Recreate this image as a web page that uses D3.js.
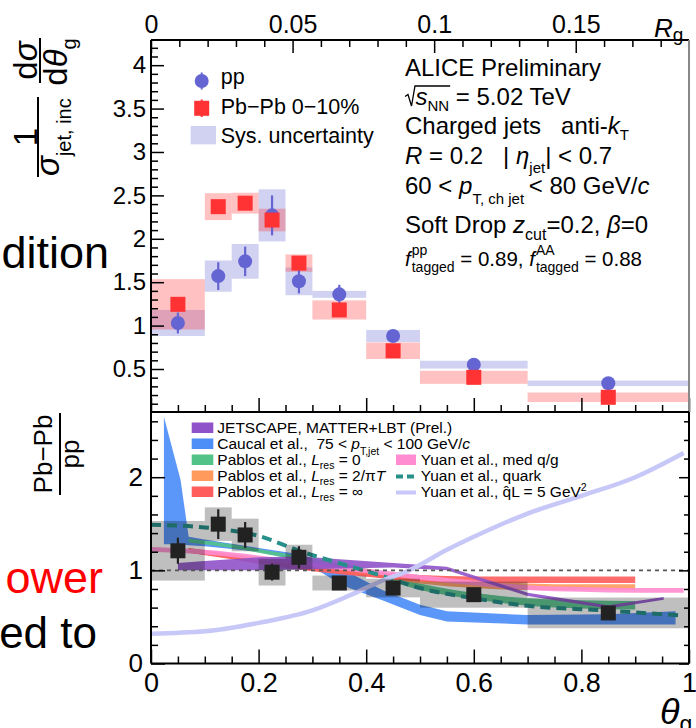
<!DOCTYPE html>
<html><head><meta charset="utf-8">
<script src="https://cdn.jsdelivr.net/npm/d3@7"></script>
<style>html,body{margin:0;padding:0;background:#fff;} svg{display:block;} text{white-space:pre;}</style>
</head><body>
<script>
// ================= DATA =================
const binEdges = [0, 0.1, 0.15, 0.2, 0.25, 0.3, 0.4, 0.5, 0.7, 1.0];
const ppValues = [1.03, 1.57, 1.74, 2.27, 1.51, 1.36, 0.88, 0.55, 0.335];
const ppStat   = [0.12, 0.16, 0.17, 0.23, 0.14, 0.11, 0.05, 0.03, 0.02];
const ppSys    = [0.15, 0.18, 0.20, 0.30, 0.16, 0.04, 0.07, 0.045, 0.032];
const pbValues = [1.245, 2.37, 2.41, 2.216, 1.72, 1.18, 0.71, 0.404, 0.174];
const pbStat   = [0.07, 0.05, 0.05, 0.07, 0.06, 0.05, 0.04, 0.03, 0.03];
const pbSys    = [0.29, 0.155, 0.12, 0.13, 0.10, 0.11, 0.095, 0.075, 0.055];
const ratioValues = [1.21, 1.496, 1.38, 0.98, 1.14, 0.864, 0.81, 0.739, 0.543];
const ratioStat   = [0.14, 0.16, 0.14, 0.09, 0.12, 0.05, 0.05, 0.04, 0.04];
const ratioSys    = [0.32, 0.18, 0.175, 0.143, 0.135, 0.08, 0.10, 0.14, 0.165];

const jetscapeX  = [0.05, 0.1, 0.2, 0.28, 0.35, 0.45, 0.55, 0.7, 0.85, 0.953];
const jetscapeHi = [1.08, 1.10, 1.14, 1.15, 1.12, 1.08, 1.04, 0.76, 0.625, 0.715];
const jetscapeLo = [1.00, 1.00, 1.00, 1.01, 1.02, 1.03, 1.00, 0.725, 0.59, 0.685];

const caucalX  = [0.024, 0.055, 0.07, 0.1, 0.2, 0.28, 0.36, 0.43, 0.5, 0.55, 0.7, 0.85, 0.975];
const caucalHi = [2.65, 1.97, 1.36, 1.33, 1.24, 1.17, 1.0, 0.79, 0.63, 0.56, 0.52, 0.53, 0.56];
const caucalLo = [1.28, 1.28, 1.27, 1.26, 1.2, 1.1, 0.83, 0.68, 0.52, 0.45, 0.42, 0.42, 0.42];

const pablosX     = [0.07, 0.15, 0.2, 0.3, 0.4, 0.5, 0.6, 0.7, 0.8, 0.9];
const pablos0Hi   = [1.34, 1.28, 1.23, 1.13, 1.02, 0.86, 0.76, 0.70, 0.68, 0.67];
const pablos0Lo   = [1.30, 1.24, 1.19, 1.08, 0.96, 0.79, 0.69, 0.62, 0.59, 0.58];
const pablos2Hi   = [1.24, 1.18, 1.14, 1.06, 0.99, 0.92, 0.88, 0.86, 0.85, 0.85];
const pablos2Lo   = [1.19, 1.13, 1.09, 1.01, 0.94, 0.86, 0.81, 0.79, 0.79, 0.79];
const pablosInfHi = [1.24, 1.17, 1.12, 1.04, 0.99, 0.95, 0.935, 0.935, 0.935, 0.935];
const pablosInfLo = [1.19, 1.12, 1.07, 0.99, 0.93, 0.88, 0.865, 0.865, 0.865, 0.865];

const yuanMedX  = [0, 0.1, 0.2, 0.3, 0.4, 0.5, 0.6, 0.7, 0.8, 0.9, 0.99];
const yuanMedHi = [1.25, 1.22, 1.16, 1.09, 1.02, 0.95, 0.89, 0.84, 0.82, 0.81, 0.81];
const yuanMedLo = [1.20, 1.17, 1.11, 1.04, 0.97, 0.90, 0.84, 0.79, 0.77, 0.76, 0.76];

const yuanQuarkX = [0, 0.1, 0.2, 0.28, 0.36, 0.43, 0.5, 0.6, 0.7, 0.85, 0.99];
const yuanQuarkY = [1.49, 1.46, 1.37, 1.2, 1.06, 0.94, 0.81, 0.70, 0.62, 0.567, 0.514];

const yuanQLX = [0, 0.1, 0.2, 0.3, 0.365, 0.426, 0.48, 0.55, 0.6, 0.7, 0.8, 0.9, 0.99];
const yuanQLY = [0.32, 0.345, 0.436, 0.57, 0.72, 0.88, 1.0, 1.22, 1.36, 1.61, 1.8, 2.0, 2.26];

const rgTicks = [0, 0.05, 0.1, 0.15];
const rgTickLabels = ["0", "0.05", "0.1", "0.15"];
const topYTicks = [0.5, 1, 1.5, 2, 2.5, 3, 3.5, 4];
const topYTickLabels = ["0.5", "1", "1.5", "2", "2.5", "3", "3.5", "4"];
const thetaTicks = [0, 0.2, 0.4, 0.6, 0.8, 1];
const thetaTickLabels = ["0", "0.2", "0.4", "0.6", "0.8", "1"];
const botYTicks = [0, 1, 2];
const botYTickLabels = ["0", "1", "2"];

// ================= SETUP =================
const W = 696, H = 728;
const FONT = '"Liberation Sans", Arial, Helvetica, sans-serif';
const svg = d3.select("body").append("svg").attr("width", W).attr("height", H)
  .style("font-family", FONT).style("background", "#fff");

const L = 151, R = 689, T1 = 40, B1 = 412, B2 = 663.5;
const x = d3.scaleLinear().domain([0, 1]).range([L, R]);
const xR = d3.scaleLinear().domain([0, 0.19]).range([L, R]);
const yTop = d3.scaleLinear().domain([0, 4.29]).range([412.4, T1]);
const yBot = d3.scaleLinear().domain([0, 2.7]).range([B2, B1]);

const bins = binEdges.slice(0, -1).map((lo, i) => ({lo, hi: binEdges[i + 1], c: (lo + binEdges[i + 1]) / 2, i}));

function rich(parent, px, py, parts, size, anchor, fill) {
  const g = parent.append("g").attr("fill", fill || "#000");
  let cx = 0;
  const pos = [];
  for (const p of parts) {
    if (p.gap !== undefined) { pos.push([cx, cx + p.gap]); cx += p.gap; continue; }
    if (p.stack) {
      let w = 0;
      for (const s of p.stack) {
        const t = g.append("text").attr("x", cx).attr("y", s.dy).attr("font-size", s.size)
          .style("font-style", s.i ? "italic" : "normal").attr("xml:space", "preserve").text(s.t);
        w = Math.max(w, t.node().getComputedTextLength());
      }
      pos.push([cx, cx + w]);
      cx += w;
      continue;
    }
    const fs = p.size || size;
    const t = g.append("text").attr("x", cx + (p.dx || 0)).attr("y", p.dy || 0).attr("font-size", fs)
      .style("font-style", p.i ? "italic" : "normal").attr("xml:space", "preserve").text(p.t);
    const w = t.node().getComputedTextLength();
    pos.push([cx + (p.dx || 0), cx + (p.dx || 0) + w]);
    cx += w + (p.dx || 0) + (p.after || 0);
  }
  const off = anchor === "middle" ? -cx / 2 : anchor === "end" ? -cx : 0;
  g.attr("transform", `translate(${px + off},${py})`);
  return {g, width: cx, pos};
}

function styleAxis(g, fs) {
  g.attr("font-family", null).attr("font-size", null);
  g.select(".domain").remove();
  g.selectAll(".tick line").attr("stroke", "#000").attr("stroke-width", 1.5);
  g.selectAll("text").attr("font-size", fs).attr("fill", "#000").style("font-family", FONT);
}
function diffTicks(start, stop, step, majors) {
  return d3.range(start, stop + 1e-9, step).filter(v => !majors.some(m => Math.abs(m - v) < 1e-6));
}

// ================= BACKGROUND SLIDE TEXT =================
svg.append("text").attr("x", 109).attr("y", 268).attr("text-anchor", "end").attr("font-size", 45).attr("fill", "#000").text("dition");
svg.append("text").attr("x", 103).attr("y", 593).attr("text-anchor", "end").attr("font-size", 45).attr("fill", "#ff0000").text("ower");
svg.append("text").attr("x", 97).attr("y", 648).attr("text-anchor", "end").attr("font-size", 44).attr("fill", "#000").text("ed to");

// ================= TOP PANEL =================
const topG = svg.append("g");
topG.append("rect").attr("x", L).attr("y", T1).attr("width", R - L).attr("height", B1 - T1).attr("fill", "#fff");
svg.append("clipPath").attr("id", "clipTop").append("rect").attr("x", L).attr("y", T1).attr("width", R - L).attr("height", B1 - T1);

const tp = topG.append("g").attr("clip-path", "url(#clipTop)");
tp.selectAll(".ppsys").data(bins).join("rect")
  .attr("x", d => x(d.lo)).attr("width", d => x(d.hi) - x(d.lo))
  .attr("y", d => yTop(ppValues[d.i] + ppSys[d.i]))
  .attr("height", d => yTop(ppValues[d.i] - ppSys[d.i]) - yTop(ppValues[d.i] + ppSys[d.i]))
  .attr("fill", "rgb(102,102,210)").attr("fill-opacity", 0.3);
tp.selectAll(".pbsys").data(bins).join("rect")
  .attr("x", d => x(d.lo)).attr("width", d => x(d.hi) - x(d.lo))
  .attr("y", d => yTop(pbValues[d.i] + pbSys[d.i]))
  .attr("height", d => yTop(pbValues[d.i] - pbSys[d.i]) - yTop(pbValues[d.i] + pbSys[d.i]))
  .attr("fill", "rgb(255,51,51)").attr("fill-opacity", 0.3);
tp.selectAll(".pperr").data(bins).join("line")
  .attr("x1", d => x(d.c)).attr("x2", d => x(d.c))
  .attr("y1", d => yTop(ppValues[d.i] - ppStat[d.i])).attr("y2", d => yTop(ppValues[d.i] + ppStat[d.i]))
  .attr("stroke", "#6464d2").attr("stroke-width", 2.2);
tp.selectAll(".ppdot").data(bins).join("circle")
  .attr("cx", d => x(d.c)).attr("cy", d => yTop(ppValues[d.i])).attr("r", 7)
  .attr("fill", "#6464d2");
tp.selectAll(".pberr").data(bins).join("line")
  .attr("x1", d => x(d.c)).attr("x2", d => x(d.c))
  .attr("y1", d => yTop(pbValues[d.i] - pbStat[d.i])).attr("y2", d => yTop(pbValues[d.i] + pbStat[d.i]))
  .attr("stroke", "#ff3333").attr("stroke-width", 2.2);
tp.selectAll(".pbsq").data(bins).join("rect")
  .attr("x", d => x(d.c) - 7.5).attr("y", d => yTop(pbValues[d.i]) - 7.5).attr("width", 15).attr("height", 15)
  .attr("fill", "#ff3333");

topG.append("g").attr("transform", `translate(0,${T1})`)
  .call(d3.axisTop(xR).tickValues(rgTicks).tickSize(-13).tickPadding(7).tickFormat((d, i) => rgTickLabels[i]))
  .call(g => styleAxis(g, 25));
topG.append("g").attr("transform", `translate(0,${T1})`)
  .call(d3.axisTop(xR).tickValues(diffTicks(0.01, 0.18, 0.01, rgTicks)).tickSize(-7).tickFormat(""))
  .call(g => styleAxis(g, 25));
topG.append("g").attr("transform", `translate(${L},0)`)
  .call(d3.axisLeft(yTop).tickValues(topYTicks).tickSize(-13).tickPadding(5).tickFormat((d, i) => topYTickLabels[i]))
  .call(g => styleAxis(g, 24));
topG.append("g").attr("transform", `translate(${L},0)`)
  .call(d3.axisLeft(yTop).tickValues(diffTicks(0.1, 4.2, 0.1, topYTicks)).tickSize(-7).tickFormat(""))
  .call(g => styleAxis(g, 24));
topG.append("g").attr("transform", `translate(0,${B1})`)
  .call(d3.axisBottom(x).tickValues(thetaTicks).tickSize(-14).tickFormat(""))
  .call(g => styleAxis(g, 24));
topG.append("g").attr("transform", `translate(0,${B1})`)
  .call(d3.axisBottom(x).tickValues(diffTicks(0.05, 0.95, 0.05, thetaTicks)).tickSize(-7).tickFormat(""))
  .call(g => styleAxis(g, 24));
topG.append("line").attr("x1", L).attr("x2", R).attr("y1", T1).attr("y2", T1).attr("stroke", "#000").attr("stroke-width", 2);
topG.append("line").attr("x1", L).attr("x2", L).attr("y1", T1).attr("y2", B1).attr("stroke", "#000").attr("stroke-width", 2);
topG.append("line").attr("x1", R).attr("x2", R).attr("y1", T1).attr("y2", B1).attr("stroke", "#888").attr("stroke-width", 2);

// top legend
const tl = svg.append("g");
tl.append("line").attr("x1", 201.7).attr("x2", 201.7).attr("y1", 72.5).attr("y2", 89.5).attr("stroke", "#6464d2").attr("stroke-width", 2);
tl.append("circle").attr("cx", 201.7).attr("cy", 81).attr("r", 7).attr("fill", "#6464d2");
tl.append("line").attr("x1", 201.7).attr("x2", 201.7).attr("y1", 99.5).attr("y2", 117).attr("stroke", "#ff3333").attr("stroke-width", 2);
tl.append("rect").attr("x", 194.2).attr("y", 100.8).attr("width", 15).attr("height", 15).attr("fill", "#ff3333");
tl.append("rect").attr("x", 190.7).attr("y", 126).attr("width", 25.3).attr("height", 18.3).attr("fill", "rgb(102,102,210)").attr("fill-opacity", 0.3);
tl.append("text").attr("x", 220.7).attr("y", 83.5).attr("font-size", 21.5).text("pp");
tl.append("text").attr("x", 220.7).attr("y", 113.5).attr("font-size", 21.5).text("Pb\u2212Pb 0\u221210%");
tl.append("text").attr("x", 220.7).attr("y", 142.5).attr("font-size", 21.5).text("Sys. uncertainty");

// top-right info text
const X0 = 405;
rich(svg, X0, 75.5, [{t: "ALICE Preliminary"}], 24);
const l2 = rich(svg, X0, 104.5, [{gap: 10.5}, {t: "s", i: true}, {t: "NN", size: 15, dy: 6}, {t: " = 5.02 TeV"}], 24);
l2.g.append("path").attr("d", `M0,-8 L3,-10 L6.5,1.5 L10,-18.5 L${l2.pos[2][1] + 1},-18.5`)
  .attr("fill", "none").attr("stroke", "#000").attr("stroke-width", 1.3);
rich(svg, X0, 134, [{t: "Charged jets   anti-"}, {t: "k", i: true}, {t: "T", size: 15, dy: 6}], 24);
rich(svg, X0, 163.5, [{t: "R", i: true}, {t: " = 0.2   | "}, {t: "\u03B7", i: true}, {t: "jet", size: 15, dy: 9}, {t: "| < 0.7"}], 24);
rich(svg, X0, 194, [{t: "60 < "}, {t: "p", i: true}, {t: "T, ch jet", size: 15, dy: 10}, {t: " < 80 GeV/", dx: -2}, {t: "c", i: true}], 24);
rich(svg, X0, 233, [{t: "Soft Drop "}, {t: "z", i: true}, {t: "cut", size: 16, dy: 7}, {t: "=0.2, "}, {t: "\u03B2", i: true}, {t: "=0"}], 24);
rich(svg, X0, 265.5, [{t: "f", i: true, after: 1}, {stack: [{t: "pp", size: 14, dy: -11}, {t: "tagged", size: 14, dy: 6}]},
  {t: " = 0.89, "}, {t: "f", i: true, after: 1}, {stack: [{t: "AA", size: 14, dy: -11}, {t: "tagged", size: 14, dy: 6}]}, {t: " = 0.88"}], 20.5);

rich(svg, 654, 37, [{t: "R", i: true}, {t: "g", size: 19, dy: 4}], 26);

const yt = svg.append("g").attr("transform", "translate(40,177) rotate(-90)");
yt.append("line").attr("x1", 0).attr("x2", 80).attr("y1", -2).attr("y2", -2).attr("stroke", "#000").attr("stroke-width", 2);
rich(yt, 40, -3, [{t: "1"}], 33, "middle");
rich(yt, 1, 19, [{t: "\u03C3", i: true}, {t: "jet, inc", size: 20, dy: 12}], 33);
yt.append("line").attr("x1", 94).attr("x2", 139).attr("y1", 0).attr("y2", 0).attr("stroke", "#000").attr("stroke-width", 2);
rich(yt, 116.5, -3, [{t: "d"}, {t: "\u03C3", i: true}], 33, "middle");
rich(yt, 115, 27, [{t: "d"}, {t: "\u03B8", i: true}, {t: "g", size: 20, dy: 9}], 33, "middle");

// ================= BOTTOM PANEL =================
const botG = svg.append("g");
svg.append("clipPath").attr("id", "clipBot").append("rect").attr("x", L).attr("y", B1).attr("width", R - L).attr("height", B2 - B1);
const bp = botG.append("g").attr("clip-path", "url(#clipBot)");

function band(xs, hi, lo, color, curve, op) {
  const data = xs.map((v, i) => ({x: v, hi: hi[i], lo: lo[i]}));
  bp.append("path").datum(data)
    .attr("d", d3.area().x(d => x(d.x)).y0(d => yBot(d.lo)).y1(d => yBot(d.hi)).curve(curve))
    .attr("fill", color).attr("fill-opacity", op);
}
band(caucalX, caucalHi, caucalLo, "#4d8ef7", d3.curveLinear, 0.92);
band(pablosX, pablos0Hi, pablos0Lo, "#52c287", d3.curveMonotoneX, 0.9);
band(pablosX, pablos2Hi, pablos2Lo, "#ff9a5c", d3.curveMonotoneX, 0.9);
band(pablosX, pablosInfHi, pablosInfLo, "#ff5c5c", d3.curveMonotoneX, 0.9);
band(yuanMedX, yuanMedHi, yuanMedLo, "#ff8cd0", d3.curveMonotoneX, 0.9);
band(jetscapeX, jetscapeHi, jetscapeLo, "#8f52c8", d3.curveLinear, 0.9);
bp.append("path").datum(yuanQuarkX.map((v, i) => ({x: v, y: yuanQuarkY[i]})))
  .attr("d", d3.line().x(d => x(d.x)).y(d => yBot(d.y)).curve(d3.curveMonotoneX))
  .attr("fill", "none").attr("stroke", "#28908a").attr("stroke-width", 4).attr("stroke-dasharray", "10,6");
bp.append("path").datum(yuanQLX.map((v, i) => ({x: v, y: yuanQLY[i]})))
  .attr("d", d3.line().x(d => x(d.x)).y(d => yBot(d.y)).curve(d3.curveMonotoneX))
  .attr("fill", "none").attr("stroke", "#c8c8f8").attr("stroke-width", 4.5);

bp.selectAll(".rsys").data(bins).join("rect")
  .attr("x", d => x(d.lo)).attr("width", d => x(d.hi) - x(d.lo))
  .attr("y", d => yBot(ratioValues[d.i] + ratioSys[d.i]))
  .attr("height", d => yBot(ratioValues[d.i] - ratioSys[d.i]) - yBot(ratioValues[d.i] + ratioSys[d.i]))
  .attr("fill", "#000").attr("fill-opacity", 0.25);
bp.append("line").attr("x1", L).attr("x2", R).attr("y1", yBot(1)).attr("y2", yBot(1))
  .attr("stroke", "#555").attr("stroke-width", 1.6).attr("stroke-dasharray", "4,4");
bp.selectAll(".rerr").data(bins).join("line")
  .attr("x1", d => x(d.c)).attr("x2", d => x(d.c))
  .attr("y1", d => yBot(ratioValues[d.i] - ratioStat[d.i])).attr("y2", d => yBot(ratioValues[d.i] + ratioStat[d.i]))
  .attr("stroke", "#222").attr("stroke-width", 2.2);
bp.selectAll(".rsq").data(bins).join("rect")
  .attr("x", d => x(d.c) - 7.5).attr("y", d => yBot(ratioValues[d.i]) - 7.5).attr("width", 15).attr("height", 15)
  .attr("fill", "#222");

botG.append("g").attr("transform", `translate(0,${B2})`)
  .call(d3.axisBottom(x).tickValues(thetaTicks).tickSize(-14).tickPadding(9).tickFormat((d, i) => thetaTickLabels[i]))
  .call(g => styleAxis(g, 27));
botG.append("g").attr("transform", `translate(0,${B2})`)
  .call(d3.axisBottom(x).tickValues(diffTicks(0.05, 0.95, 0.05, thetaTicks)).tickSize(-7).tickFormat(""))
  .call(g => styleAxis(g, 27));
botG.append("g").attr("transform", `translate(${L},0)`)
  .call(d3.axisLeft(yBot).tickValues(botYTicks).tickSize(-14).tickPadding(8).tickFormat((d, i) => botYTickLabels[i]))
  .call(g => styleAxis(g, 26));
botG.append("g").attr("transform", `translate(${L},0)`)
  .call(d3.axisLeft(yBot).tickValues(diffTicks(0.2, 2.6, 0.2, botYTicks)).tickSize(-7).tickFormat(""))
  .call(g => styleAxis(g, 26));
botG.append("g").attr("transform", `translate(${R},0)`)
  .call(d3.axisRight(yBot).tickValues(botYTicks).tickSize(-10).tickFormat(""))
  .call(g => styleAxis(g, 26));
botG.append("g").attr("transform", `translate(${R},0)`)
  .call(d3.axisRight(yBot).tickValues(diffTicks(0.2, 2.6, 0.2, botYTicks)).tickSize(-5).tickFormat(""))
  .call(g => styleAxis(g, 26));
botG.append("line").attr("x1", L).attr("x2", R).attr("y1", B1).attr("y2", B1).attr("stroke", "#000").attr("stroke-width", 2);
botG.append("line").attr("x1", L).attr("x2", R).attr("y1", B2).attr("y2", B2).attr("stroke", "#000").attr("stroke-width", 2);
botG.append("line").attr("x1", L).attr("x2", L).attr("y1", B1).attr("y2", B2).attr("stroke", "#000").attr("stroke-width", 2);
botG.append("line").attr("x1", R).attr("x2", R).attr("y1", B1).attr("y2", B2).attr("stroke", "#000").attr("stroke-width", 2);

// bottom legend
const bl = svg.append("g");
const LFS = 15.5;
const legLeft = [
  {c: "#8f52c8", parts: [{t: "JETSCAPE, MATTER+LBT (Prel.)"}]},
  {c: "#4d8ef7", parts: [{t: "Caucal et al.,  75 < "}, {t: "p", i: true}, {t: "T,jet", size: 10.5, dy: 6}, {t: " < 100 GeV/"}, {t: "c", i: true}]},
  {c: "#52c287", parts: [{t: "Pablos et al., "}, {t: "L", i: true}, {t: "res", size: 10.5, dy: 4}, {t: " = 0"}]},
  {c: "#ff9a5c", parts: [{t: "Pablos et al., "}, {t: "L", i: true}, {t: "res", size: 10.5, dy: 4}, {t: " = 2/\u03C0"}, {t: "T", i: true}]},
  {c: "#ff5c5c", parts: [{t: "Pablos et al., "}, {t: "L", i: true}, {t: "res", size: 10.5, dy: 4}, {t: " = \u221E"}]}
];
legLeft.forEach((e, i) => {
  const yb = 432.5 + 16 * i;
  bl.append("rect").attr("x", 191.7).attr("y", yb - 10).attr("width", 21.6).attr("height", 10.5).attr("fill", e.c);
  rich(bl, 217.3, yb, e.parts, LFS);
});
bl.append("rect").attr("x", 396).attr("y", 454.5).attr("width", 20).attr("height", 10.5).attr("fill", "#ff8cd0");
rich(bl, 420.7, 464.5, [{t: "Yuan et al., med q/g"}], LFS);
bl.append("line").attr("x1", 396).attr("x2", 416).attr("y1", 476.5).attr("y2", 476.5).attr("stroke", "#28908a").attr("stroke-width", 4).attr("stroke-dasharray", "7,4");
rich(bl, 420.7, 480.5, [{t: "Yuan et al., quark"}], LFS);
bl.append("line").attr("x1", 396).attr("x2", 416).attr("y1", 492.5).attr("y2", 492.5).attr("stroke", "#c8c8f8").attr("stroke-width", 4);
rich(bl, 420.7, 496.5, [{t: "Yuan et al., q\u0302L = 5 GeV"}, {t: "2", size: 10.5, dy: -6}], LFS);

const byT = svg.append("g").attr("transform", "translate(60,454) rotate(-90)");
byT.append("line").attr("x1", -41).attr("x2", 41).attr("y1", 0).attr("y2", 0).attr("stroke", "#000").attr("stroke-width", 2);
rich(byT, 0, -8, [{t: "Pb\u2212Pb"}], 26, "middle");
rich(byT, 0, 18.5, [{t: "pp"}], 26, "middle");

rich(svg, 660, 724, [{t: "\u03B8", i: true}, {t: "g", size: 23, dy: 8}], 36);
</script>
</body></html>
